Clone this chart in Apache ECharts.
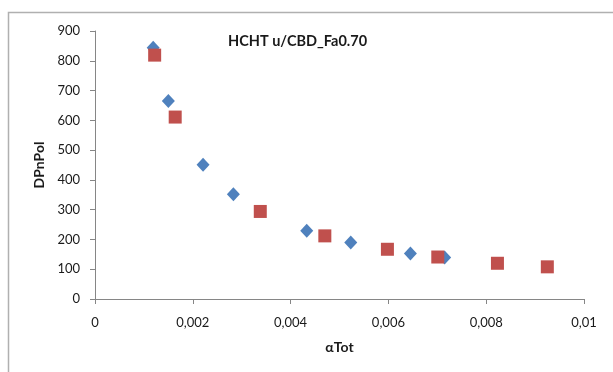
<!DOCTYPE html>
<html><head><meta charset="utf-8">
<script src="https://cdn.jsdelivr.net/npm/echarts@6/dist/echarts.min.js"></script>
<style>html,body{margin:0;padding:0;background:#fff}#c{width:613px;height:372px}</style>
</head><body><div id="c"></div>
<script>
const blueX = [0.00119, 0.00150, 0.00221, 0.00283, 0.00433, 0.00523, 0.00645, 0.00715];
const blueY = [844, 665, 451, 352, 229, 190, 153, 139];
const redX = [0.00122, 0.00164, 0.00338, 0.00470, 0.00598, 0.00701, 0.00823, 0.00925];
const redY = [819, 611, 294, 212, 167, 141, 120, 108];
const titleText = 'HCHT u/CBD_Fa0.70';
const xName = 'αTot';
const yName = 'DPnPol';

const F = 'Lato, "Open Sans", sans-serif';
const chart = echarts.init(document.getElementById('c'));
const axisCol = '#868686';
chart.setOption({
  animation: false,
  backgroundColor: '#fff',
  graphic: [{
    type: 'polyline', silent: true,
    shape: { points: [[8.5, 380], [8.5, 12.5], [620, 12.5]] },
    style: { stroke: '#b0b0b0', lineWidth: 1.5, fill: null }
  }],
  title: {
    text: titleText, left: 223, top: 29,
    textStyle: { fontFamily: F, fontSize: 14.5, fontWeight: 'bold', color: '#1a1a1a' }
  },
  grid: { left: 95, right: 29, top: 31, bottom: 73 },
  xAxis: {
    type: 'value', min: 0, max: 0.01, interval: 0.002,
    name: xName, nameLocation: 'middle', nameGap: 41,
    nameTextStyle: { fontFamily: F, fontSize: 14, fontWeight: 'bold', color: '#1a1a1a' },
    axisLine: { show: true, lineStyle: { color: axisCol, width: 1 } },
    axisTick: { show: true, inside: false, length: 5, lineStyle: { color: axisCol } },
    splitLine: { show: false },
    axisLabel: { fontFamily: F, fontSize: 13, color: '#1a1a1a', margin: 17,
      formatter: v => v === 0 ? '0' : String(+v.toFixed(3)).replace('.', ',') }
  },
  yAxis: {
    type: 'value', min: 0, max: 900, interval: 100,
    name: yName, nameLocation: 'middle', nameGap: 43, nameRotate: 90,
    nameTextStyle: { fontFamily: F, fontSize: 14, fontWeight: 'bold', color: '#1a1a1a' },
    axisLine: { show: true, lineStyle: { color: axisCol, width: 1 } },
    axisTick: { show: true, inside: false, length: 5, lineStyle: { color: axisCol } },
    splitLine: { show: false },
    axisLabel: { fontFamily: F, fontSize: 13, color: '#1a1a1a', margin: 15 }
  },
  series: [
    { type: 'scatter', symbol: 'diamond', symbolSize: [13, 14],
      itemStyle: { color: '#4F81BD', opacity: 1 },
      data: blueX.map((x, i) => [x, blueY[i]]) },
    { type: 'scatter', symbol: 'rect', symbolSize: 13,
      itemStyle: { color: '#C0504D', opacity: 1 },
      data: redX.map((x, i) => [x, redY[i]]) }
  ]
});
</script></body></html>
